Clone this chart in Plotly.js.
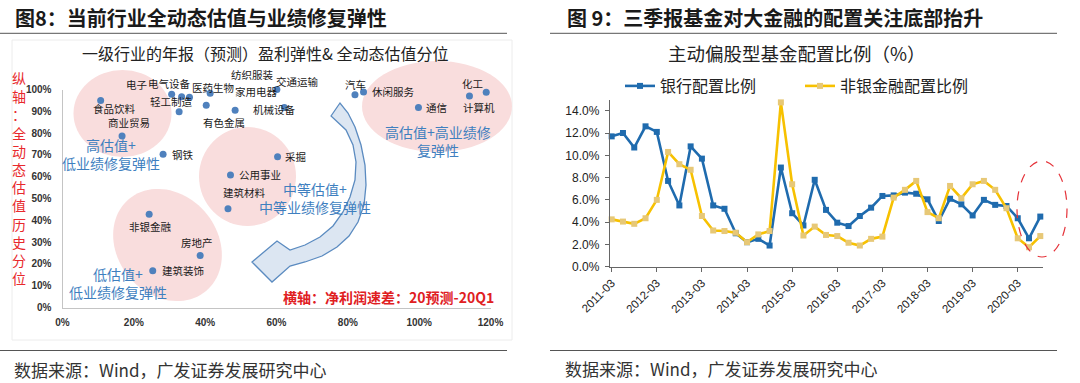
<!DOCTYPE html>
<html><head><meta charset="utf-8">
<script src="https://cdn.plot.ly/plotly-3.0.1.min.js"></script>
<style>html,body{margin:0;padding:0;background:#fff}#chart{width:1080px;height:383px}</style>
</head><body><div id="chart"></div>
<script>
// ---------- Left chart data (图8) ----------
const industries = ['食品饮料','商业贸易','钢铁','电子','电气设备','医药生物','轻工制造','纺织服装','家用电器','有色金属','交通运输','机械设备','汽车','休闲服务','通信','化工','计算机','采掘','公用事业','建筑材料','非银金融','房地产','建筑装饰'];
const profitGap   = [10.7,16.7,28.2,30.6,33.4,35.6,32.7,41.4,40.3,48.4,60.1,62.2,82.0,84.4,99.8,114.1,118.8,60.3,47.1,46.4,24.3,38.6,25.3];
const valuationPct= [94.9,78.7,70.3,97.8,96.7,96.4,89.8,98.3,92.8,90.5,100.0,91.7,97.6,98.9,91.7,97.0,98.7,69.2,60.8,45.3,42.8,23.8,16.9];
const leftXTicks = [0,20,40,60,80,100,120];
const leftXTickText = ['0%','20%','40%','60%','80%','100%','120%'];
const leftYTicks = [0,10,20,30,40,50,60,70,80,90,100];
const leftYTickText = ['0%','10%','20%','30%','40%','50%','60%','70%','80%','90%','100%'];

// ---------- Right chart data (图9) ----------
const quarters = ['2011-03','2011-06','2011-09','2011-12','2012-03','2012-06','2012-09','2012-12','2013-03','2013-06','2013-09','2013-12','2014-03','2014-06','2014-09','2014-12','2015-03','2015-06','2015-09','2015-12','2016-03','2016-06','2016-09','2016-12','2017-03','2017-06','2017-09','2017-12','2018-03','2018-06','2018-09','2018-12','2019-03','2019-06','2019-09','2019-12','2020-03','2020-06','2020-09'];
const bankAlloc    = [11.7,12.0,10.7,12.6,12.1,7.7,5.5,10.8,9.7,5.5,5.2,3.0,2.2,2.5,1.9,8.9,4.8,3.7,7.8,5.1,3.95,3.65,4.55,5.3,6.35,6.4,6.65,6.55,6.05,4.1,6.1,5.6,4.6,6.0,5.55,5.45,4.35,2.55,4.5];
const nonBankAlloc = [4.25,4.05,3.85,4.35,6.0,10.3,9.2,8.7,4.55,3.25,3.2,3.05,2.2,2.9,3.2,14.75,7.4,2.8,3.6,2.85,2.75,2.15,1.9,2.5,2.7,6.2,6.9,7.7,4.9,4.35,7.25,6.15,7.4,7.7,6.9,5.25,2.55,1.75,2.75];
const rightXTicks = ['2011-03','2012-03','2013-03','2014-03','2015-03','2016-03','2017-03','2018-03','2019-03','2020-03'];
const rightYTicks = [0,2,4,6,8,10,12,14];
const rightYTickText = ['0.0%','2.0%','4.0%','6.0%','8.0%','10.0%','12.0%','14.0%'];
const seriesNames = ['银行配置比例','非银金融配置比例'];

// ---------- helpers (layout only) ----------
const W=1080,H=383;
const px = x => x/W;
const py = y => 1 - y/H;
const CJK = '"Noto Sans CJK SC", sans-serif';
const ARIAL = '"Liberation Sans", Arial, sans-serif';
function pathFromPx(pts){
  return 'M' + pts.map(p => px(p[0]).toFixed(5)+','+py(p[1]).toFixed(5)).join(' L') + ' Z';
}
function ellipsePts(cx,cy,a,b,deg){
  const t = deg*Math.PI/180, pts=[];
  for(let i=0;i<90;i++){
    const u = 2*Math.PI*i/90, x=a*Math.cos(u), y=b*Math.sin(u);
    pts.push([cx + x*Math.cos(t) - y*Math.sin(t), cy + x*Math.sin(t) + y*Math.cos(t)]);
  }
  return pts;
}

// label offsets (pixels, dx right / dy up) for industry labels
const labelShift = [[14,-8],[7,13],[20,0],[-35,10],[-12,13],[24,10],[-8,10],[42,19],[50,14],[-11,-12],[21,8],[-10,-2],[1,10],[30,0],[18,0],[3,13],[-7,-15],[18,0],[30,0],[17,16],[1,-12],[-3,13],[30,0]];

const pink = '#F9DDDD';
const shapes = [
  {type:'rect', xref:'paper', yref:'paper', x0:px(12), x1:px(512), y0:py(340), y1:py(40), line:{color:'#ececec', width:1}, layer:'below'},
  {type:'circle', xref:'paper', yref:'paper', x0:px(73.5), x1:px(171.5), y0:py(157), y1:py(70), fillcolor:pink, line:{width:0}, layer:'below'},
  {type:'circle', xref:'paper', yref:'paper', x0:px(199), x1:px(296), y0:py(226), y1:py(127), fillcolor:pink, line:{width:0}, layer:'below'},
  {type:'circle', xref:'paper', yref:'paper', x0:px(362), x1:px(512), y0:py(152), y1:py(61), fillcolor:pink, line:{width:0}, layer:'below'},
  {type:'path', xref:'paper', yref:'paper', path:pathFromPx(ellipsePts(167.5,245,60,50,50)), fillcolor:pink, line:{width:0}, layer:'below'},
  // curved arrow
  {type:'path', xref:'paper', yref:'paper', layer:'below',
   path:pathFromPx([[331,116],[340,103],[348,113],[355,127],[361,145],[365,165],[366,185],[364,205],[358,222],[349,236],[337,247],[322,256],[305,262],[290,266],
                    [272,282],[252,262],[277,241],
                    [290,250],[305,245],[320,237],[333,226],[343,212],[350,197],[355,180],[356,162],[353,145],[346,130]]),
   fillcolor:'#DCE6F2', line:{color:'#5B8BC0', width:1.3}},
  {type:'line', xref:'paper', yref:'paper', x0:px(0), x1:px(507), y0:py(33.3), y1:py(33.3), line:{color:'#555', width:1}},
  {type:'line', xref:'paper', yref:'paper', x0:px(550), x1:px(1057), y0:py(33.3), y1:py(33.3), line:{color:'#555', width:1}},
  {type:'line', xref:'paper', yref:'paper', x0:px(0), x1:px(507), y0:py(350.5), y1:py(350.5), line:{color:'#555', width:1}},
  {type:'line', xref:'paper', yref:'paper', x0:px(550), x1:px(1057), y0:py(350.5), y1:py(350.5), line:{color:'#555', width:1}},
  {type:'circle', xref:'paper', yref:'paper', x0:px(1017), x1:px(1067), y0:py(257), y1:py(161), line:{color:'#E5333A', width:1.2, dash:'dash'}, layer:'above'}
];

const annotations = [];
function txt(text,x,y,size,color,opts){
  annotations.push(Object.assign({text:text, xref:'paper', yref:'paper', x:px(x), y:py(y), showarrow:false,
    xanchor:'center', yanchor:'middle', font:{family:CJK, size:size, color:color}}, opts||{}));
}
txt('图8：当前行业全动态估值与业绩修复弹性', 13, 17, 20, '#1a1a1a', {xanchor:'left', font:{family:CJK, size:20, color:'#1a1a1a', weight:700}});
txt('图 9：三季报基金对大金融的配置关注底部抬升', 565, 17, 20, '#1a1a1a', {xanchor:'left', font:{family:CJK, size:20, color:'#1a1a1a', weight:700}});
txt('一级行业的年报（预测）盈利弹性& 全动态估值分位', 265, 53, 16, '#222');
txt('主动偏股型基金配置比例（%）', 797, 53, 18.5, '#222');
txt('数据来源：Wind，广发证券发展研究中心', 12, 369, 17, '#333', {xanchor:'left'});
txt('数据来源：Wind，广发证券发展研究中心', 563, 368, 17, '#333', {xanchor:'left'});
txt('纵<br>轴<br>：<br>全<br>动<br>态<br>估<br>值<br>历<br>史<br>分<br>位', 18.5, 177.5, 14, '#E8282C');
txt('横轴：净利润速差：20预测-20Q1', 388.5, 297, 14, '#E0201F', {font:{family:CJK, size:14, color:'#E0201F', weight:700}});
const zoneBlue = '#3F7FBF';
txt('高估值+<br>低业绩修复弹性', 111, 154, 14, zoneBlue);
txt('中等估值+<br>中等业绩修复弹性', 314.5, 197.5, 14, zoneBlue);
txt('高估值+高业绩修<br>复弹性', 437.5, 140.5, 14, zoneBlue);
txt('低估值+<br>低业绩修复弹性', 117.5, 282.7, 14, zoneBlue);
industries.forEach((name,i) => {
  annotations.push({text:name, x:profitGap[i], y:valuationPct[i], xref:'x', yref:'y', showarrow:false,
    xanchor:'center', yanchor:'middle', xshift:labelShift[i][0], yshift:labelShift[i][1],
    font:{family:CJK, size:10.5, color:'#1a1a1a'}});
});

const traces = [
  {type:'scatter', mode:'markers', x:profitGap, y:valuationPct, xaxis:'x', yaxis:'y', showlegend:false,
   marker:{color:'#4F81BD', size:7}, cliponaxis:false, hoverinfo:'skip'},
  {type:'scatter', mode:'lines+markers', name:seriesNames[0], x:quarters, y:bankAlloc, xaxis:'x2', yaxis:'y2',
   line:{color:'#1F6BAE', width:2.6}, marker:{symbol:'square', size:6, color:'#1F6BAE'}, cliponaxis:false},
  {type:'scatter', mode:'lines+markers', name:seriesNames[1], x:quarters, y:nonBankAlloc, xaxis:'x2', yaxis:'y2',
   line:{color:'#F7C100', width:2.6}, marker:{symbol:'square', size:6, color:'#E7C877'}, cliponaxis:false}
];

const layout = {
  width:W, height:H, margin:{l:0,r:0,t:0,b:0}, paper_bgcolor:'#fff', plot_bgcolor:'rgba(0,0,0,0)',
  showlegend:true,
  legend:{orientation:'h', x:px(620), y:py(86), xanchor:'left', yanchor:'middle', bgcolor:'rgba(0,0,0,0)',
          font:{family:CJK, size:16, color:'#222'}, entrywidth:135, entrywidthmode:'pixels'},
  xaxis:{domain:[px(62.5), px(490.5)], range:[0,120], anchor:'y', tickmode:'array', tickvals:leftXTicks, ticktext:leftXTickText,
         showline:true, linecolor:'#C4C4C4', linewidth:1, showgrid:false, zeroline:false, ticks:'', ticklabelstandoff:5,
         tickfont:{family:ARIAL, size:10, color:'#333', weight:700}},
  yaxis:{domain:[py(307.5), py(89.5)], range:[0,100], anchor:'x', tickmode:'array', tickvals:leftYTicks, ticktext:leftYTickText,
         showline:true, linecolor:'#C4C4C4', linewidth:1, showgrid:false, zeroline:false, ticks:'', ticklabelstandoff:8,
         tickfont:{family:ARIAL, size:10, color:'#333', weight:700}},
  xaxis2:{domain:[px(610), px(1043)], type:'category', categoryorder:'array', categoryarray:quarters, range:[-0.15,38.24], anchor:'y2',
          tickmode:'array', tickvals:rightXTicks, ticktext:rightXTicks, tickangle:-45, ticks:'outside', ticklen:4, tickcolor:'#666',
          showline:true, linecolor:'#666', linewidth:1.2, showgrid:false, zeroline:false,
          tickfont:{family:ARIAL, size:11.5, color:'#222'}},
  yaxis2:{domain:[py(266.7), py(99.6)], range:[0,15], anchor:'x2', tickmode:'array', tickvals:rightYTicks, ticktext:rightYTickText,
          ticks:'outside', ticklen:4, tickcolor:'#666', showline:true, linecolor:'#666', linewidth:1.2, showgrid:false, zeroline:false,
          ticklabelstandoff:3, tickfont:{family:ARIAL, size:12, color:'#222'}},
  shapes:shapes, annotations:annotations
};
Plotly.newPlot('chart', traces, layout, {displayModeBar:false, staticPlot:true});
</script></body></html>
